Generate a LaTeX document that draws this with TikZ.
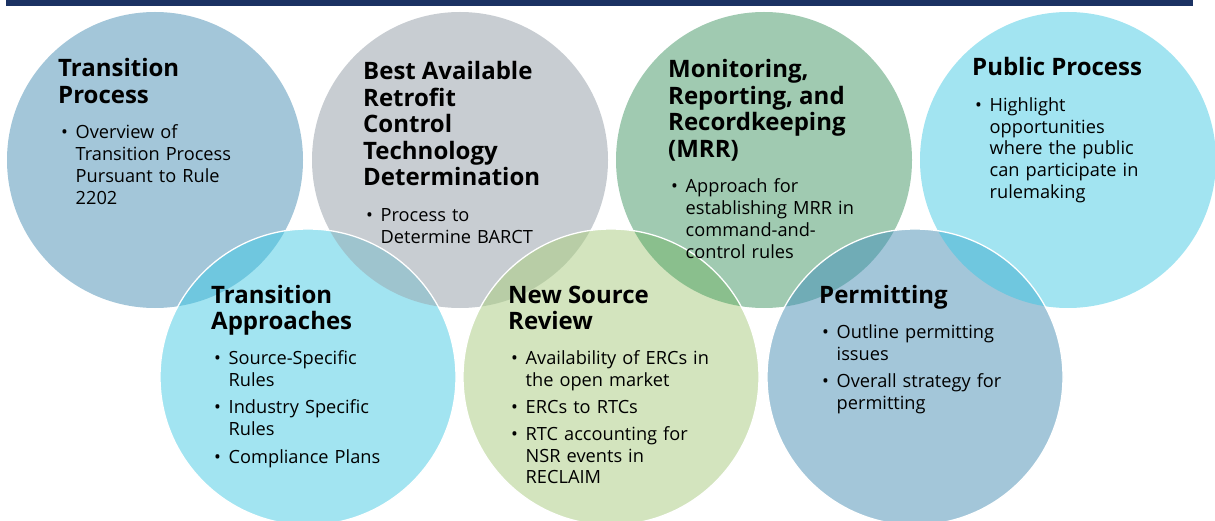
\documentclass[tikz,border=0pt]{standalone}
\usepackage{fontspec}
\setmainfont{Open Sans}
\setlength{\parindent}{0pt}
\definecolor{barnavy}{HTML}{1B3263}
\definecolor{steelblue}{HTML}{A3C6D9}
\definecolor{slategray}{HTML}{C8CDD2}
\definecolor{sagegreen}{HTML}{A0CAB1}
\definecolor{skycyan}{HTML}{A2E4F1}
\definecolor{palegreen}{HTML}{D3E4BE}
\definecolor{ovcyan}{HTML}{6FC7DF}
\definecolor{ovgray}{HTML}{9EC4CE}
\definecolor{ovolive}{HTML}{B8CDA6}
\definecolor{ovgreen}{HTML}{8ABF8D}
\definecolor{ovteal}{HTML}{70ACB6}
\newcommand{\venntitle}[1]{{\fontsize{24}{26.5}\selectfont\bfseries #1\par}\vspace{13.5pt}}
\newcommand{\vennitem}[1]{\hspace*{3pt}\makebox[14.5pt][l]{\textbullet}\begin{tabular}[t]{@{}l@{}}#1\end{tabular}\par\vspace{4.5pt}}

\begin{document}
\begin{tikzpicture}[x=1pt,y=-1pt]
  \tikzset{circ/.style={circle, inner sep=0pt, minimum size=296pt, draw=none},
           ring/.style={draw=white, line width=1.3pt},
           txt/.style={anchor=base west, inner sep=0pt, text width=250pt, align=left,
                       font=\fontsize{18.2}{21.8}\selectfont}}
  \useasboundingbox (0,0) rectangle (1215,521);
  \clip (0,0) rectangle (1215,521);

  \fill[barnavy] (6,0) rectangle (1193,6);

  \node[circ, fill=steelblue] (tp) at (155,160) {};
  \node[circ, fill=slategray] (bact) at (460,160) {};
  \node[circ, fill=sagegreen] (mrr) at (764,160) {};
  \node[circ, fill=skycyan] (pub) at (1068,160) {};

  \node[circ, fill=skycyan] (ta) at (308,377) {};
  \node[circ, fill=palegreen] (nsr) at (611,377) {};
  \node[circ, fill=steelblue] (perm) at (915,377) {};

  \foreach \up/\low/\col in {tp/ta/ovcyan, bact/ta/ovgray, bact/nsr/ovolive,
                             mrr/nsr/ovgreen, mrr/perm/ovteal, pub/perm/ovcyan} {
    \begin{scope}
      \clip (\up.center) circle[radius=148];
      \fill[\col] (\low.center) circle[radius=148];
    \end{scope}
  }
  \foreach \low in {ta,nsr,perm}
    \draw[ring] (\low.center) circle[radius=148];

  \node[txt] (tp-t) at (58,77) {\venntitle{Transition\\Process}
    \vennitem{Overview of\\Transition Process\\Pursuant to Rule\\2202}};
  \node[txt] (bact-t) at (363,80) {\venntitle{Best Available\\Retrofit\\Control\\Technology\\Determination}
    \vennitem{Process to\\Determine BARCT}};
  \node[txt] (mrr-t) at (668,78) {\venntitle{Monitoring,\\Reporting, and\\Recordkeeping\\(MRR)}
    \vennitem{Approach for\\establishing MRR in\\command-and-\\control rules}};
  \node[txt] (pub-t) at (972,76) {\venntitle{Public Process}
    \vennitem{Highlight\\opportunities\\where the public\\can participate in\\rulemaking}};

  \node[txt] (ta-t) at (211,303) {\venntitle{Transition\\Approaches}
    \vennitem{Source-Specific\\Rules}
    \vennitem{Industry Specific\\Rules}
    \vennitem{Compliance Plans}};
  \node[txt] (nsr-t) at (508,303) {\venntitle{New Source\\Review}
    \vennitem{Availability of ERCs in\\the open market}
    \vennitem{ERCs to RTCs}
    \vennitem{RTC accounting for\\NSR events in\\RECLAIM}};
  \node[txt] (perm-t) at (819,303) {\venntitle{Permitting}
    \vennitem{Outline permitting\\issues}
    \vennitem{Overall strategy for\\permitting}};
\end{tikzpicture}
\end{document}
